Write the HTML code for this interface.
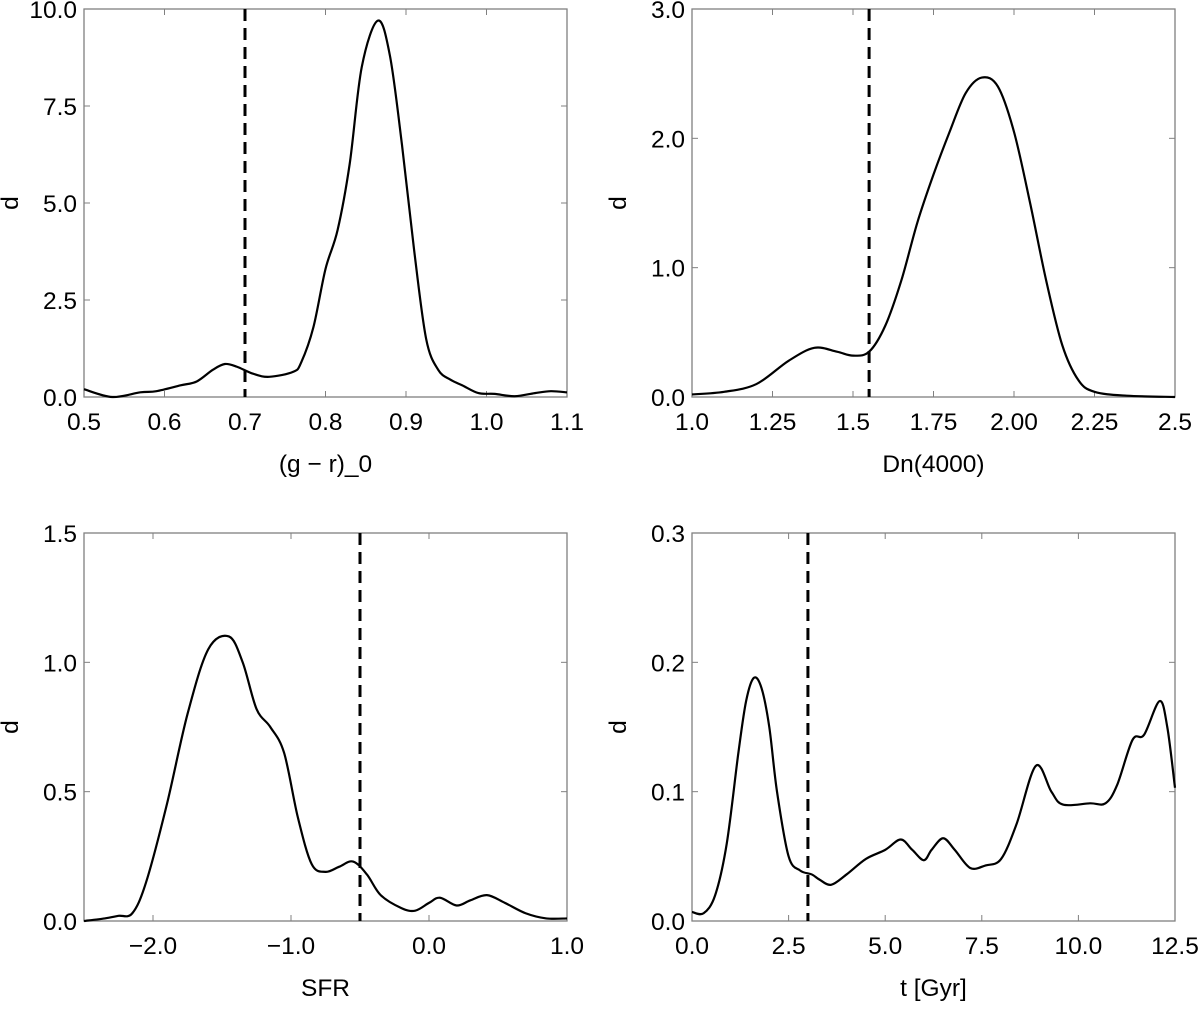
<!DOCTYPE html>
<html><head><meta charset="utf-8"><style>
body{margin:0;background:#fff}
svg{display:block;font-family:"Liberation Sans",Arial,sans-serif}
</style></head><body>
<svg id="fig" width="1200" height="1013" viewBox="0 0 1200 1013"></svg>
<script>
const grX=[0.5,0.535,0.57,0.59,0.62,0.64,0.66,0.675,0.69,0.71,0.73,0.76,0.77,0.785,0.80,0.815,0.83,0.845,0.865,0.88,0.895,0.91,0.925,0.94,0.955,0.97,0.99,1.01,1.035,1.06,1.08,1.1];
const grY=[0.2,0.0,0.12,0.15,0.3,0.4,0.7,0.85,0.78,0.6,0.52,0.65,0.9,1.8,3.3,4.3,6.0,8.5,9.7,8.8,6.5,3.8,1.5,0.7,0.45,0.3,0.1,0.08,0.02,0.1,0.15,0.12];
const dnX=[1.0,1.1,1.2,1.3,1.38,1.45,1.5,1.55,1.6,1.65,1.7,1.75,1.8,1.85,1.9,1.95,2.0,2.05,2.1,2.15,2.2,2.25,2.35,2.5];
const dnY=[0.02,0.04,0.1,0.28,0.38,0.35,0.32,0.35,0.55,0.9,1.35,1.72,2.05,2.35,2.47,2.4,2.05,1.5,0.9,0.4,0.13,0.04,0.01,0.0];
const sfrX=[-2.5,-2.35,-2.25,-2.15,-2.05,-1.9,-1.75,-1.6,-1.45,-1.35,-1.25,-1.15,-1.05,-0.95,-0.85,-0.75,-0.65,-0.55,-0.45,-0.35,-0.2,-0.1,0.0,0.08,0.2,0.3,0.42,0.55,0.7,0.85,1.0];
const sfrY=[0,0.01,0.02,0.03,0.15,0.45,0.8,1.05,1.1,1.0,0.82,0.75,0.65,0.4,0.22,0.19,0.21,0.23,0.18,0.1,0.05,0.04,0.07,0.09,0.06,0.08,0.1,0.07,0.03,0.01,0.01];
const tX=[0,0.3,0.6,0.9,1.2,1.4,1.6,1.8,2.0,2.2,2.5,2.8,3.1,3.3,3.6,4.0,4.5,5.0,5.4,5.7,6.0,6.2,6.5,6.8,7.2,7.6,8.0,8.4,8.9,9.3,9.6,10.3,10.7,11.0,11.4,11.7,12.1,12.3,12.5];
const tY=[0.007,0.006,0.02,0.06,0.13,0.17,0.188,0.18,0.15,0.1,0.05,0.039,0.036,0.032,0.028,0.036,0.048,0.055,0.063,0.055,0.047,0.055,0.064,0.055,0.041,0.043,0.048,0.075,0.12,0.1,0.09,0.091,0.091,0.105,0.14,0.144,0.17,0.15,0.103];
const grXT=["0.5","0.6","0.7","0.8","0.9","1.0","1.1"], grYT=["0.0","2.5","5.0","7.5","10.0"];
const dnXT=["1.0","1.25","1.5","1.75","2.00","2.25","2.5"], dnYT=["0.0","1.0","2.0","3.0"];
const sfrXT=["-2.0","-1.0","0.0","1.0"], sfrYT=["0.0","0.5","1.0","1.5"];
const tXT=["0.0","2.5","5.0","7.5","10.0","12.5"], tYT=["0.0","0.1","0.2","0.3"];
const NS="http://www.w3.org/2000/svg", svg=document.getElementById('fig');
function el(t,a,p){const e=document.createElementNS(NS,t);for(const k in a)e.setAttribute(k,a[k]);(p||svg).appendChild(e);return e;}
function panel(name,L,T,R,B,xmin,xmax,ymin,ymax,xs,ys,xt,yt,cut,xlabel){
 const g=el('g',{});
 
 
 const sx=v=>L+(v-xmin)/(xmax-xmin)*(R-L), sy=v=>B-(v-ymin)/(ymax-ymin)*(B-T);
 const fr=el('rect',{x:L,y:T,width:R-L,height:B-T,fill:'none',stroke:'#808080','stroke-width':1.3},g);
 
 
 xt.forEach(s=>{const v=parseFloat(s),x=sx(v);
  el('line',{x1:x,y1:B,x2:x,y2:B-6,stroke:'#808080'},g);el('line',{x1:x,y1:T,x2:x,y2:T+6,stroke:'#808080'},g);
  const t=el('text',{x:x,y:B+33,'text-anchor':'middle','font-size':24.5},g);t.textContent=s.replace('-','\u2212');
  
  });
 yt.forEach(s=>{const v=parseFloat(s),y=sy(v);
  el('line',{x1:L,y1:y,x2:L+6,y2:y,stroke:'#808080'},g);el('line',{x1:R,y1:y,x2:R-6,y2:y,stroke:'#808080'},g);
  const t=el('text',{x:L-7,y:y+9,'text-anchor':'end','font-size':24.5},g);t.textContent=s;
  
  });
 const P=xs.map((x,i)=>[sx(x),sy(ys[i])]);
 let d='M'+P[0][0]+','+P[0][1];
 for(let i=0;i<P.length-1;i++){const p0=P[Math.max(0,i-1)],p1=P[i],p2=P[i+1],p3=P[Math.min(P.length-1,i+2)];
  d+=' C'+(p1[0]+(p2[0]-p0[0])/6)+','+(p1[1]+(p2[1]-p0[1])/6)+' '+(p2[0]-(p3[0]-p1[0])/6)+','+(p2[1]-(p3[1]-p1[1])/6)+' '+p2[0]+','+p2[1];}
 const c=el('path',{d:d,fill:'none',stroke:'#000','stroke-width':2.2},g);
 
 
 const dl=el('line',{x1:sx(cut),y1:T,x2:sx(cut),y2:B,stroke:'#000','stroke-width':3,'stroke-dasharray':'12,7'},g);
 
 
 const yl=el('text',{x:0,y:0,'text-anchor':'middle','font-size':24.5,transform:'translate('+(L-66)+','+((T+B)/2)+') rotate(-90)'},g);yl.textContent='d';
 
 
 const xl=el('text',{x:(L+R)/2,y:B+75,'text-anchor':'middle','font-size':24.5},g);xl.textContent=xlabel;
 
 
}
panel('panel-gr',84,9,567,397,0.5,1.1,0,10,grX,grY,grXT,grYT,0.7,'(g \u2212 r)_0');
panel('panel-dn4000',692,9,1175,397,1.0,2.5,0,3,dnX,dnY,dnXT,dnYT,1.55,'Dn(4000)');
panel('panel-sfr',84,533,567,921,-2.5,1.0,0,1.5,sfrX,sfrY,sfrXT,sfrYT,-0.5,'SFR');
panel('panel-age',692,533,1175,921,0,12.5,0,0.3,tX,tY,tXT,tYT,3.0,'t [Gyr]');
</script>
</body></html>
